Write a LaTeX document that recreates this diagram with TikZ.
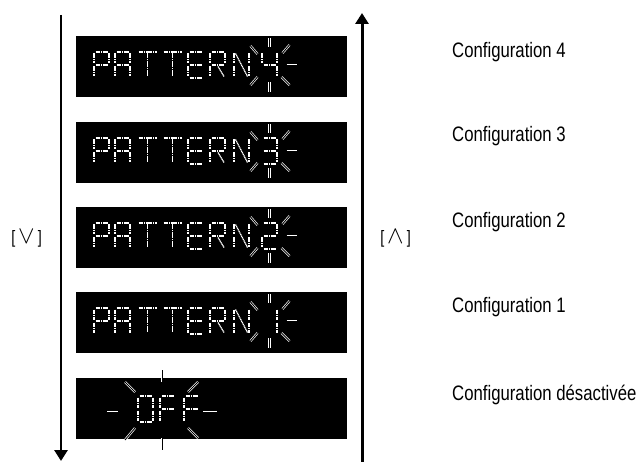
\documentclass[tikz,border=0pt]{standalone}
\usepackage{fontspec}
\setmainfont[FakeStretch=0.8]{Liberation Sans}
\usetikzlibrary{arrows.meta}
\tikzset{
  lcdbox/.style={fill=black, draw=none, inner sep=0pt, minimum width=271bp, minimum height=61bp, anchor=north west},
  lcdseg/.style={white, line width=1.2pt, dash pattern=on 1.3pt off 0.5pt},
  ray/.style={draw=white, double=black, line width=0.7pt, double distance=0.9pt},
  flowarrow/.style={line width=3pt, -{Triangle[width=13bp,length=11bp]}},
  cfg/.style={anchor=base west, inner sep=0pt, font=\fontsize{21}{24}\selectfont},
  keylabel/.style={inner sep=0pt, font=\fontsize{18}{22}\selectfont},
}
\newcommand\bigop[1]{{\fontsize{24}{24}\selectfont$#1$}}
% segment shapes of a 15 x 26 character cell (y downwards)
\def\lsega{(1.5,0)--(13.5,0)}
\def\lsegb{(15,1.5)--(15,11.5)}
\def\lsegc{(15,14.5)--(15,24.5)}
\def\lsegd{(1.5,26)--(13.5,26)}
\def\lsege{(0,14.5)--(0,24.5)}
\def\lsegf{(0,1.5)--(0,11.5)}
\def\lsegg{(1.5,13)--(13.5,13)}
\def\lsegh{(7.5,1.5)--(7.5,24.5)}
\def\lsegi{(1.5,1.5)--(13.5,24.5)}
\def\lsegj{(8,14.5)--(14,24.5)}
\def\lsegk{(-1.5,0)--(16.5,0)}
\newcommand\lcdchar[3]{%
  \begin{scope}[shift={(#1,#2)}]
    \edef\lcdlist{#3}%
    \foreach \s in \lcdlist {%
      \edef\lcdtmp{\noexpand\draw[lcdseg] \csname lseg\s\endcsname;}\lcdtmp}
  \end{scope}}
\newcommand\blinkrays[2]{%
  \begin{scope}[shift={(#1,#2)}]
    \draw[ray] (0,-27) -- (0,-18);
    \draw[ray] (0,17) -- (0,27);
    \draw[ray] (-19,-19) -- (-12,-11);
    \draw[ray] (13,-12) -- (20,-20);
    \draw[ray] (-19,20) -- (-12,12);
    \draw[ray] (12,12) -- (20,20);
    \draw[ray] (17,0) -- (27,0);
  \end{scope}}
\begin{document}
\begin{tikzpicture}[x=1bp,y=-1bp]
\useasboundingbox (0,0) rectangle (642,462);
% arrows
\coordinate (ltop) at (61,15);
\coordinate (lbot) at (61,461);
\coordinate (rbot) at (362,462);
\coordinate (rtop) at (362,13);
\draw[flowarrow] (ltop) -- (lbot);
\draw[flowarrow] (rbot) -- (rtop);
\node[keylabel] (down) at (26.5,238) {[\,\bigop{\vee}\,]};
\node[keylabel] (up) at (395.5,238) {[\,\bigop{\wedge}\,]};
% displays
\node[lcdbox] (p4) at (76,36) {};
\node[lcdbox] (p3) at (76,122) {};
\node[lcdbox] (p2) at (76,207) {};
\node[lcdbox] (p1) at (76,292) {};
\node[lcdbox] (off) at (76,378) {};
\foreach \bt/\dg in {36/{f,g,b,c}, 122/{a,b,g,c,d}, 207/{a,b,g,e,d}, 292/{b,c}} {
  \lcdchar{94}{\bt+16}{a,b,f,g,e}
  \lcdchar{115}{\bt+16}{a,b,c,e,f,g}
  \lcdchar{140}{\bt+16}{k,h}
  \lcdchar{165}{\bt+16}{k,h}
  \lcdchar{188}{\bt+16}{a,d,e,f,g}
  \lcdchar{210}{\bt+16}{a,b,f,g,e,j}
  \lcdchar{234}{\bt+16}{f,e,b,c,i}
  \lcdchar{262}{\bt+16}{\dg}
  \blinkrays{269.5}{\bt+29}
}
% OFF
\lcdchar{138}{396}{a,b,c,d,e,f}
\lcdchar{160}{396}{a,f,e,g}
\lcdchar{184}{396}{a,f,e,g}
\begin{scope}[shift={(162,410)}]
  \draw[ray] (0,-40) -- (0,-28);
  \draw[ray] (0,28) -- (0,40);
  \draw[ray] (-37,-28) -- (-27,-18);
  \draw[ray] (26,-18) -- (36,-28);
  \draw[ray] (-37,30) -- (-27,18);
  \draw[ray] (26,18) -- (36,28);
  \draw[ray] (-55,2) -- (-44,2);
  \draw[ray] (41,2) -- (55,2);
\end{scope}
% labels
\node[cfg] (c4) at (452,58) {Configuration 4};
\node[cfg] (c3) at (452,142) {Configuration 3};
\node[cfg] (c2) at (452,228) {Configuration 2};
\node[cfg] (c1) at (452,313) {Configuration 1};
\node[cfg] (c0) at (452,400) {Configuration désactivée};
\end{tikzpicture}
\end{document}
